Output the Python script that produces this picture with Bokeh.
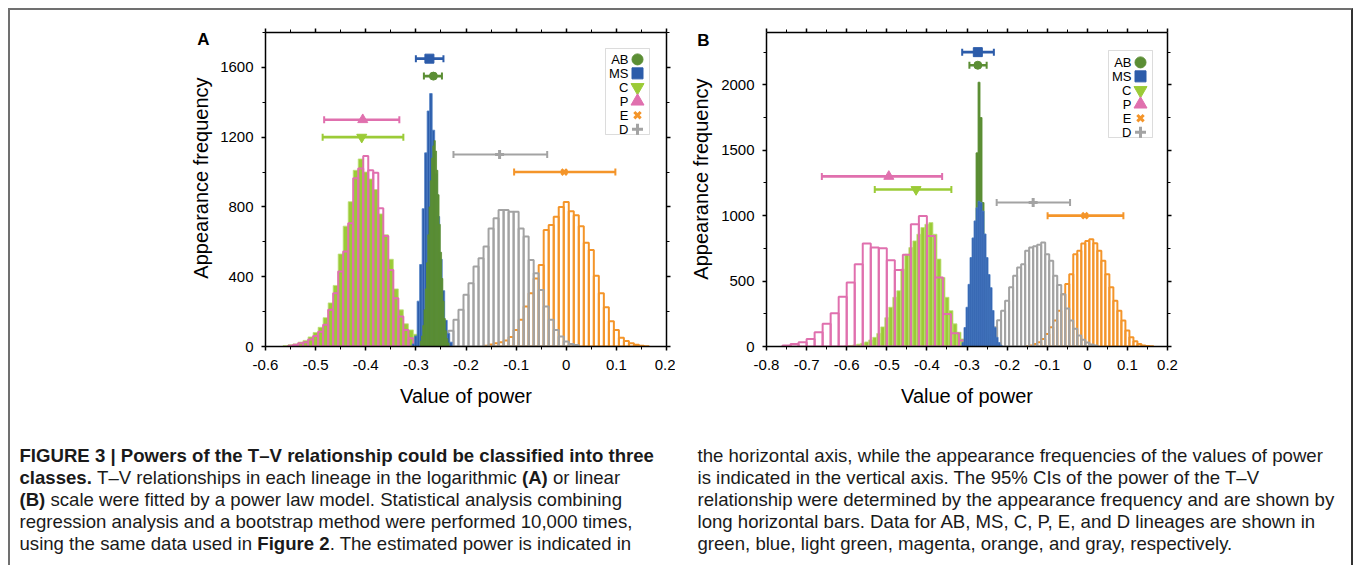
import math
from bokeh.plotting import figure
from bokeh.models import (Range1d, FixedTicker, LinearAxis, ColumnDataSource, Whisker,
                          TeeHead, BoxAnnotation, Label)
from bokeh.layouts import row, column
from bokeh.embed import file_html
from bokeh.resources import INLINE
from bokeh.core.properties import value

# ---------------- data ----------------
SERIES = ["AB", "MS", "C", "P", "E", "D"]

# Panel A (logarithmic): first bin centre, bin width, counts
A_AB_FIRST, A_AB_BIN = -0.29, 0.0025
A_AB_COUNTS = [30, 60, 120, 210, 330, 480, 640, 800, 950, 1080, 1150, 1180, 1120, 1010,
               870, 700, 540, 390, 260, 160, 90, 45, 20]
A_MS_FIRST, A_MS_BIN = -0.305, 0.005
A_MS_COUNTS = [15, 60, 260, 470, 790, 1110, 1350, 1450, 1240, 990, 745, 500, 320, 150, 75, 25]
A_C_FIRST, A_C_BIN = -0.56, 0.01
A_C_COUNTS = [5, 10, 15, 25, 35, 55, 80, 110, 165, 250, 350, 530, 690, 830, 1010, 1075, 1000,
              960, 900, 760, 640, 500, 330, 210, 130, 95, 70, 50, 40, 30, 22, 15, 8]
A_P_FIRST, A_P_BIN = -0.55, 0.01
A_P_COUNTS = [5, 10, 18, 25, 40, 60, 85, 124, 210, 305, 430, 544, 706, 964, 1021, 1092, 1011,
              996, 792, 634, 439, 277, 172, 95, 48, 19, 8, 3]
A_E_FIRST, A_E_BIN = -0.16, 0.01
A_E_COUNTS = [5, 12, 18, 25, 35, 55, 95, 153, 229, 305, 390, 467, 668, 697, 744, 800, 828, 775,
              752, 690, 595, 553, 405, 305, 225, 145, 95, 50, 32, 18, 10, 5, 2]
A_D_FIRST, A_D_BIN = -0.25, 0.01
A_D_COUNTS = [15, 45, 90, 153, 210, 296, 363, 458, 506, 573, 677, 735, 782, 782, 773, 773, 677,
              630, 496, 420, 324, 229, 153, 95, 57, 29, 15, 8]

# Panel B (linear)
B_AB_FIRST, B_AB_BIN = -0.295, 0.005
B_AB_COUNTS = [20, 90, 300, 800, 1480, 2020, 1750, 1100, 550, 200, 60, 15]
B_MS_FIRST, B_MS_BIN = -0.31, 0.005
B_MS_COUNTS = [30, 145, 300, 475, 680, 830, 960, 1060, 1110, 1100, 1035, 860, 680, 550, 450,
               275, 145, 70, 30, 10]
B_C_FIRST, B_C_BIN = -0.60, 0.01
B_C_COUNTS = [5, 8, 12, 18, 25, 35, 50, 70, 100, 150, 220, 300, 376, 426, 591, 705, 756, 807,
              858, 909, 934, 947, 858, 668, 528, 376, 274, 173, 109, 58, 33, 15]
B_P_FIRST, B_P_BIN = -0.75, 0.02
B_P_COUNTS = [8, 20, 33, 58, 109, 173, 254, 381, 490, 629, 787, 756, 751, 660, 584, 701, 934,
              997, 845, 528, 249, 101, 46, 15, 5]
B_E_FIRST, B_E_BIN = -0.15, 0.01
B_E_COUNTS = [3, 8, 20, 33, 58, 96, 147, 198, 274, 400, 477, 553, 705, 731, 787, 807, 820, 790,
              731, 655, 553, 452, 350, 274, 198, 122, 71, 41, 20, 8, 3, 1]
B_D_FIRST, B_D_BIN = -0.26, 0.01
B_D_COUNTS = [20, 46, 90, 147, 200, 274, 350, 452, 541, 604, 629, 731, 756, 766, 777, 794, 705,
              655, 541, 470, 400, 290, 198, 135, 84, 51, 30, 15, 8]

# 95% CI bars (order follows SERIES)
A_CI_Y = [1550, 1650, 1200, 1300, 1000, 1100]
A_CI_MEAN = [-0.265, -0.273, -0.408, -0.406, -0.004, -0.133]
A_CI_LO = [-0.284, -0.300, -0.486, -0.483, -0.104, -0.225]
A_CI_HI = [-0.248, -0.245, -0.325, -0.333, 0.098, -0.038]

B_CI_Y = [2150, 2250, 1200, 1300, 1000, 1100]
B_CI_MEAN = [-0.273, -0.273, -0.427, -0.495, -0.006, -0.135]
B_CI_LO = [-0.294, -0.312, -0.530, -0.662, -0.099, -0.226]
B_CI_HI = [-0.251, -0.233, -0.339, -0.362, 0.090, -0.043]

# ticks
A_XTICKS = [-0.6, -0.5, -0.4, -0.3, -0.2, -0.1, 0, 0.1, 0.2]
A_XLABELS = ["-0.6", "-0.5", "-0.4", "-0.3", "-0.2", "-0.1", "0", "0.1", "0.2"]
A_YTICKS = [0, 400, 800, 1200, 1600]
A_YLABELS = ["0", "400", "800", "1200", "1600"]
B_XTICKS = [-0.8, -0.7, -0.6, -0.5, -0.4, -0.3, -0.2, -0.1, 0, 0.1, 0.2]
B_XLABELS = ["-0.8", "-0.7", "-0.6", "-0.5", "-0.4", "-0.3", "-0.2", "-0.1", "0", "0.1", "0.2"]
B_YTICKS = [0, 500, 1000, 1500, 2000]
B_YLABELS = ["0", "500", "1000", "1500", "2000"]

X_TITLE = "Value of power"
Y_TITLE = "Appearance frequency"

CAPTION_LEFT = [
    [("FIGURE 3 | Powers of the T–V relationship could be classified into three", True)],
    [("classes.", True), (" T–V relationships in each lineage in the logarithmic ", False),
     ("(A)", True), (" or linear", False)],
    [("(B)", True), (" scale were fitted by a power law model. Statistical analysis combining", False)],
    [("regression analysis and a bootstrap method were performed 10,000 times,", False)],
    [("using the same data used in ", False), ("Figure 2", True),
     (". The estimated power is indicated in", False)],
]
CAPTION_RIGHT = [
    "the horizontal axis, while the appearance frequencies of the values of power",
    "is indicated in the vertical axis. The 95% CIs of the power of the T–V",
    "relationship were determined by the appearance frequency and are shown by",
    "long horizontal bars. Data for AB, MS, C, P, E, and D lineages are shown in",
    "green, blue, light green, magenta, orange, and gray, respectively.",
]

# ---------------- styles ----------------
COLORS = {"AB": "#5b8e34", "MS": "#2c5caa", "C": "#9bcb37", "P": "#e070ae",
          "E": "#f4952a", "D": "#a3a3a3"}
EDGE = {"AB": "#5b8e34", "MS": "#4d7ec4", "C": "#bfdf7a"}
MARKERS = {"AB": "circle", "MS": "square", "C": "inverted_triangle", "P": "triangle",
           "E": "x", "D": "cross"}
MSIZE = {"AB": 8, "MS": 9, "C": 10, "P": 10, "E": 8, "D": 9}
LSIZE = {"AB": 11, "MS": 11, "C": 13, "P": 13, "E": 9, "D": 11}
HOLLOW = {"P", "E", "D"}
FONT = "Liberation Sans"
FRAME_W, FRAME_H = 401, 315
ROW_H = 410


def hist(p, name, first, width, counts):
    centres = [first + i * width for i in range(len(counts))]
    src = ColumnDataSource(dict(left=[c - width / 2 for c in centres],
                                right=[c + width / 2 for c in centres], top=counts))
    if name in HOLLOW:
        p.quad(left="left", right="right", top="top", bottom=0, source=src,
               fill_color=None, line_color=COLORS[name], line_width=2)
    else:
        p.quad(left="left", right="right", top="top", bottom=0, source=src,
               fill_color=COLORS[name], line_color=EDGE[name], line_width=0.8)


def style_axis(ax, ticks, minor, labels, show):
    ax.ticker = FixedTicker(ticks=ticks, minor_ticks=minor)
    ax.axis_line_color = "black"
    ax.axis_line_width = 1.5
    ax.major_tick_line_color = "black"
    ax.major_tick_line_width = 1.5
    ax.major_tick_out = 4
    ax.major_tick_in = 0
    ax.minor_tick_line_color = "black"
    ax.minor_tick_line_width = 1
    ax.minor_tick_out = 3
    ax.minor_tick_in = 0
    if show:
        ax.major_label_overrides = dict(zip(ticks, labels))
        ax.major_label_text_font = FONT
        ax.major_label_text_font_size = "15px"
        ax.major_label_text_color = "black"
    else:
        ax.major_label_overrides = {t: "" for t in ticks}
        ax.major_label_text_font_size = "1px"
        ax.major_label_standoff = 0


def side_strip(x0, width, borders, letter, letter_xy, ytitle_xy):
    """Narrow canvas left of a panel holding its letter and rotated y title.
    Its ranges are in page pixels so the texts can be placed where the reference has them."""
    top_px = 10 + borders[2]
    bottom_px = 10 + ROW_H - borders[3]
    s = figure(width=width, height=ROW_H, x_range=Range1d(x0, x0 + width),
               y_range=Range1d(bottom_px, top_px), output_backend="svg",
               toolbar_location=None, min_border_left=0, min_border_right=0,
               min_border_top=borders[2], min_border_bottom=borders[3],
               x_axis_location=None, y_axis_location=None)
    s.grid.visible = False
    s.outline_line_color = None
    s.add_layout(Label(x=letter_xy[0], y=letter_xy[1], text=letter, text_font=FONT,
                       text_font_size="17px", text_font_style="bold", text_color="black",
                       text_align="center", text_baseline="middle"))
    s.add_layout(Label(x=ytitle_xy[0], y=ytitle_xy[1], text=Y_TITLE, text_font=FONT,
                       text_font_size="20px", text_color="black", angle=math.pi / 2,
                       text_align="center", text_baseline="middle"))
    return s


def make_panel(xr, yr, xt, xl, xminor, yt, yl, yminor, hists, ci,
               width, borders, legend_px, box):
    p = figure(width=width, height=ROW_H, x_range=Range1d(*xr), y_range=Range1d(*yr),
               output_backend="svg", toolbar_location=None,
               min_border_left=borders[0], min_border_right=borders[1],
               min_border_top=borders[2], min_border_bottom=borders[3])
    p.grid.visible = False
    p.outline_line_color = None
    p.background_fill_color = "white"
    p.border_fill_color = "white"

    # pixel offsets from the frame's bottom-left corner -> data coordinates
    def fx(off):
        return xr[0] + (xr[1] - xr[0]) * off / FRAME_W

    def fy(off):
        return yr[0] + (yr[1] - yr[0]) * off / FRAME_H

    style_axis(p.xaxis[0], xt, xminor, xl, True)
    style_axis(p.yaxis[0], yt, yminor, yl, True)
    p.xaxis[0].major_label_standoff = 9
    p.yaxis[0].major_label_standoff = 8
    p.xaxis.axis_label = X_TITLE
    ax = p.xaxis[0]
    ax.axis_label_text_font = FONT
    ax.axis_label_text_font_size = "20px"
    ax.axis_label_text_font_style = "normal"
    ax.axis_label_text_color = "black"
    ax.axis_label_standoff = 12
    top = LinearAxis()
    style_axis(top, xt, xminor, xl, False)
    right = LinearAxis()
    style_axis(right, yt, yminor, yl, False)
    p.add_layout(top, "above")
    p.add_layout(right, "right")

    for name, first, bw, counts in hists:
        hist(p, name, first, bw, counts)

    ys, means, los, his = ci
    for i, name in enumerate(SERIES):
        col = COLORS[name]
        src = ColumnDataSource(dict(y=[ys[i]], m=[means[i]], lo=[los[i]], hi=[his[i]]))
        lw = 2 if name == "D" else 2.6
        p.add_layout(Whisker(source=src, base="y", lower="lo", upper="hi", dimension="width",
                             line_color=col, line_width=lw, level="underlay",
                             upper_head=TeeHead(size=7, line_color=col, line_width=2),
                             lower_head=TeeHead(size=7, line_color=col, line_width=2)))
        p.scatter(x="m", y="y", source=src, marker=MARKERS[name], size=MSIZE[name],
                  fill_color=col, line_color=col,
                  line_width=3 if name in ("E", "D") else 1)

    # legend: label on the left, marker on the right, inside a thin grey box
    p.add_layout(BoxAnnotation(left=box[0], right=box[1], bottom=box[2], top=box[3],
                               left_units="screen", right_units="screen",
                               bottom_units="screen", top_units="screen",
                               fill_alpha=0, line_color="#8a8a8a", line_width=1))
    text_dx, mark_dx, top_dy, pitch = legend_px
    for i, name in enumerate(SERIES):
        col = COLORS[name]
        yy = fy(top_dy - i * pitch)
        lsrc = ColumnDataSource(dict(x=[fx(mark_dx)], tx=[fx(text_dx)], y=[yy], t=[name]))
        p.scatter(x="x", y="y", source=lsrc, marker=MARKERS[name], size=LSIZE[name],
                  fill_color=col, line_color=col,
                  line_width=3 if name in ("E", "D") else 1)
        p.text(x="tx", y="y", text="t", source=lsrc, text_font=value(FONT),
               text_font_size="13px", text_align="right", text_baseline="middle",
               text_color="black")
    return p


A_BORDERS = (50, 9, 22, 73)
B_BORDERS = (51, 184, 21, 74)

sA = side_strip(10, 205, A_BORDERS, "A", (203, 39), (200, 178))
pA = make_panel(
    (-0.6, 0.2), (0, 1800), A_XTICKS, A_XLABELS,
    [round(-0.55 + 0.1 * i, 2) for i in range(8)],
    A_YTICKS, A_YLABELS, [200, 600, 1000, 1400, 1800],
    [("E", A_E_FIRST, A_E_BIN, A_E_COUNTS), ("D", A_D_FIRST, A_D_BIN, A_D_COUNTS),
     ("C", A_C_FIRST, A_C_BIN, A_C_COUNTS), ("P", A_P_FIRST, A_P_BIN, A_P_COUNTS),
     ("MS", A_MS_FIRST, A_MS_BIN, A_MS_COUNTS), ("AB", A_AB_FIRST, A_AB_BIN, A_AB_COUNTS)],
    (A_CI_Y, A_CI_MEAN, A_CI_LO, A_CI_HI),
    460, A_BORDERS, (363, 372, 288, 14), (340, 384, 212, 298))

sB = side_strip(675, 40, B_BORDERS, "B", (703, 39), (700, 178))
pB = make_panel(
    (-0.8, 0.2), (0, 2400), B_XTICKS, B_XLABELS,
    [round(-0.75 + 0.1 * i, 2) for i in range(10)],
    B_YTICKS, B_YLABELS, [250, 750, 1250, 1750, 2250],
    [("E", B_E_FIRST, B_E_BIN, B_E_COUNTS), ("D", B_D_FIRST, B_D_BIN, B_D_COUNTS),
     ("C", B_C_FIRST, B_C_BIN, B_C_COUNTS), ("P", B_P_FIRST, B_P_BIN, B_P_COUNTS),
     ("AB", B_AB_FIRST, B_AB_BIN, B_AB_COUNTS), ("MS", B_MS_FIRST, B_MS_BIN, B_MS_COUNTS)],
    (B_CI_Y, B_CI_MEAN, B_CI_LO, B_CI_HI),
    636, B_BORDERS, (365, 374, 285, 14), (342, 386, 209, 296))

# ---------------- caption ----------------
REG = dict(zip("abcdefghijklmnopqrstuvwxyz",
               [556, 556, 500, 556, 556, 278, 556, 556, 222, 222, 500, 222, 833, 556, 556,
                556, 556, 333, 500, 278, 556, 500, 722, 500, 500, 500]))
REG.update(zip("ABCDEFGHIJKLMNOPQRSTUVWXYZ",
               [667, 667, 722, 722, 667, 611, 778, 722, 278, 500, 667, 556, 833, 722, 778,
                667, 778, 722, 667, 611, 722, 667, 944, 667, 667, 611]))
REG.update({" ": 278, ".": 278, ",": 278, "(": 333, ")": 333, "–": 556, "|": 260, "%": 889})
BLD = dict(zip("abcdefghijklmnopqrstuvwxyz",
               [556, 611, 556, 611, 556, 333, 611, 611, 278, 278, 556, 278, 889, 611, 611,
                611, 611, 389, 556, 333, 611, 556, 778, 556, 556, 500]))
BLD.update(zip("ABCDEFGHIJKLMNOPQRSTUVWXYZ",
               [722, 722, 722, 722, 667, 611, 778, 722, 278, 556, 722, 611, 833, 722, 778,
                667, 778, 722, 667, 611, 722, 667, 944, 667, 667, 611]))
BLD.update({" ": 278, ".": 278, ",": 278, "(": 333, ")": 333, "–": 556, "|": 280})
CAP_FS = 18.6


def tw(s, bold):
    t = BLD if bold else REG
    return sum(t.get(ch, 556) for ch in s) * CAP_FS / 1000.0


cap = figure(width=1341, height=145, x_range=Range1d(0, 1341), y_range=Range1d(145, 0),
             output_backend="svg", toolbar_location=None, min_border=0,
             x_axis_location=None, y_axis_location=None)
cap.grid.visible = False
cap.outline_line_color = None


def add_text(x, y, txt, bold):
    cap.add_layout(Label(x=x, y=y, text=txt, text_font=FONT, text_font_size=f"{CAP_FS}px",
                         text_font_style="bold" if bold else "normal", text_color="#1a1a1a",
                         text_align="left", text_baseline="middle"))


LINE_Y0, LINE_DY = 35, 22
for i, pieces in enumerate(CAPTION_LEFT):
    x = 9
    for txt, bold in pieces:
        lead = len(txt) - len(txt.lstrip(" "))
        add_text(x + tw(" " * lead, bold), LINE_Y0 + i * LINE_DY, txt.strip(), bold)
        x += tw(txt, bold)
for i, txt in enumerate(CAPTION_RIGHT):
    add_text(687, LINE_Y0 + i * LINE_DY, txt, False)

layout = column(row(sA, pA, sB, pB), cap, margin=(8, 0, 0, 8),
                styles={"border-left": "2px solid #707070", "border-top": "2px solid #707070",
                        "border-right": "2px solid #333333"})

open("out.html", "w").write(file_html(layout, INLINE))
